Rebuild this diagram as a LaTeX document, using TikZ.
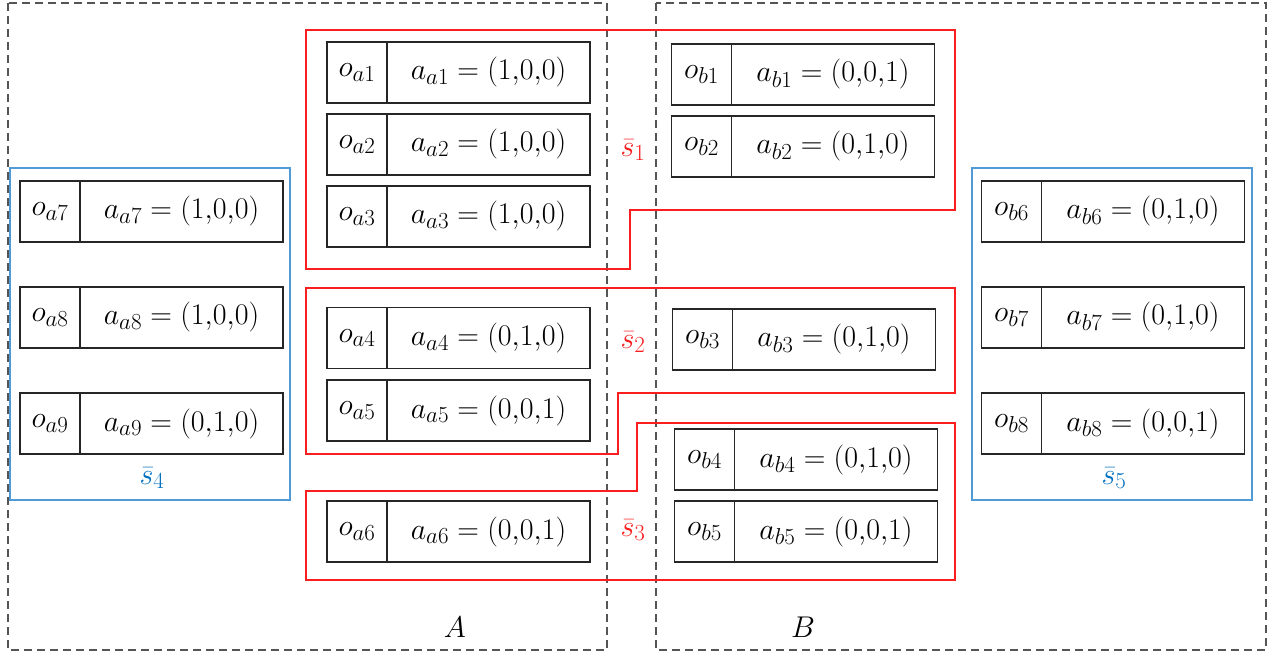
\RequirePackage{fix-cm}
\documentclass[tikz,border=0pt]{standalone}
\usepackage{amsmath,amssymb}
\usepackage{tikz}
\usepackage{xcolor}
\usetikzlibrary{positioning}
\DeclareMathSizes{30}{30}{23}{18}
\definecolor{grpred}{RGB}{250,30,30}
\definecolor{grpblue}{RGB}{80,155,215}
\definecolor{lblblue}{RGB}{0,112,192}
\definecolor{agentgray}{RGB}{85,85,85}

\begin{document}
\begin{tikzpicture}[x=1pt,y=-1pt,font=\fontsize{30}{36}\selectfont,
  obox/.style={draw=black!85,line width=1.1pt,minimum width=60pt,minimum height=61pt,inner sep=0pt,outer sep=0pt},
  abox/.style={draw=black!85,line width=1.1pt,minimum width=203pt,minimum height=61pt,inner sep=0pt,outer sep=0pt},
  agent/.style={draw=agentgray,line width=1.1pt,dash pattern=on 8pt off 5pt},
  redgrp/.style={draw=grpred,line width=1.1pt},
  bluegrp/.style={draw=grpblue,line width=1.1pt}]
\useasboundingbox (0,0) rectangle (1271,652);
% agents
\draw[agent] (8,3) rectangle (607,650);
\draw[agent] (656,3) rectangle (1266,650);
\node (labA) at (455,627) {$A$};
\node (labB) at (803,627) {$B$};
% groups
\draw[redgrp] (306,30) -- (955,30) -- (955,210) -- (630,210) -- (630,269) -- (306,269) -- cycle;
\draw[redgrp] (306,288) -- (955,288) -- (955,393) -- (618,393) -- (618,454) -- (306,454) -- cycle;
\draw[redgrp] (306,491) -- (637,491) -- (637,423) -- (955,423) -- (955,580) -- (306,580) -- cycle;
\draw[bluegrp] (10,168) rectangle (290,500);
\draw[bluegrp] (972,168) rectangle (1252,500);
\node[text=grpred] (s1) at (633,150) {$\bar{s}_1$};
\node[text=grpred] (s2) at (633,342) {$\bar{s}_2$};
\node[text=grpred] (s3) at (633,530) {$\bar{s}_3$};
\node[text=lblblue] (s4) at (152,478) {$\bar{s}_4$};
\node[text=lblblue] (s5) at (1114,478) {$\bar{s}_5$};
% agent A
\node[obox] (oa1) at (357,72.5) {$o_{a1}$};
\node[abox,right=0pt of oa1] (aa1) {$a_{a1}=(1{,}0{,}0)$};
\node[obox] (oa2) at (357,144.5) {$o_{a2}$};
\node[abox,right=0pt of oa2] (aa2) {$a_{a2}=(1{,}0{,}0)$};
\node[obox] (oa3) at (357,216.5) {$o_{a3}$};
\node[abox,right=0pt of oa3] (aa3) {$a_{a3}=(1{,}0{,}0)$};
\node[obox] (oa4) at (357,338) {$o_{a4}$};
\node[abox,right=0pt of oa4] (aa4) {$a_{a4}=(0{,}1{,}0)$};
\node[obox] (oa5) at (357,410.5) {$o_{a5}$};
\node[abox,right=0pt of oa5] (aa5) {$a_{a5}=(0{,}0{,}1)$};
\node[obox] (oa6) at (357,531.5) {$o_{a6}$};
\node[abox,right=0pt of oa6] (aa6) {$a_{a6}=(0{,}0{,}1)$};
\node[obox] (oa7) at (50,211.5) {$o_{a7}$};
\node[abox,right=0pt of oa7] (aa7) {$a_{a7}=(1{,}0{,}0)$};
\node[obox] (oa8) at (50,317.5) {$o_{a8}$};
\node[abox,right=0pt of oa8] (aa8) {$a_{a8}=(1{,}0{,}0)$};
\node[obox] (oa9) at (50,423.5) {$o_{a9}$};
\node[abox,right=0pt of oa9] (aa9) {$a_{a9}=(0{,}1{,}0)$};
% agent B
\node[obox] (ob1) at (701.5,74.5) {$o_{b1}$};
\node[abox,right=0pt of ob1] (ab1) {$a_{b1}=(0{,}0{,}1)$};
\node[obox] (ob2) at (701.5,146.5) {$o_{b2}$};
\node[abox,right=0pt of ob2] (ab2) {$a_{b2}=(0{,}1{,}0)$};
\node[obox] (ob3) at (702.5,339.5) {$o_{b3}$};
\node[abox,right=0pt of ob3] (ab3) {$a_{b3}=(0{,}1{,}0)$};
\node[obox] (ob4) at (704.5,459.5) {$o_{b4}$};
\node[abox,right=0pt of ob4] (ab4) {$a_{b4}=(0{,}1{,}0)$};
\node[obox] (ob5) at (704.5,531.5) {$o_{b5}$};
\node[abox,right=0pt of ob5] (ab5) {$a_{b5}=(0{,}0{,}1)$};
\node[obox] (ob6) at (1011.5,211.5) {$o_{b6}$};
\node[abox,right=0pt of ob6] (ab6) {$a_{b6}=(0{,}1{,}0)$};
\node[obox] (ob7) at (1011.5,317.5) {$o_{b7}$};
\node[abox,right=0pt of ob7] (ab7) {$a_{b7}=(0{,}1{,}0)$};
\node[obox] (ob8) at (1011.5,423.5) {$o_{b8}$};
\node[abox,right=0pt of ob8] (ab8) {$a_{b8}=(0{,}0{,}1)$};
\end{tikzpicture}
\end{document}
